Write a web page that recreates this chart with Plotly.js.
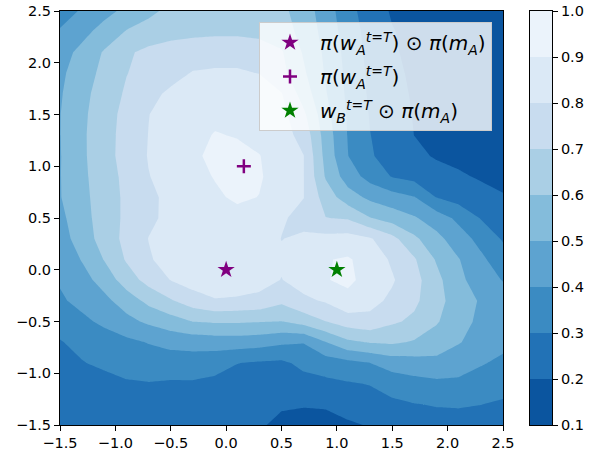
<!DOCTYPE html>
<html><head><meta charset="utf-8">
<script src="https://cdn.plot.ly/plotly-3.0.1.min.js"></script>
<style>html,body{margin:0;padding:0;background:#fff}#chart{width:589px;height:452px}</style>
</head><body><div id="chart"></div>
<script>
// grid coordinates of the surface
const xGrid = [-1.5,-1.3,-1.1,-0.9,-0.7,-0.5,-0.3,-0.1,0.1,0.3,0.5,0.7,0.9,1.1,1.3,1.5,1.7,1.9,2.1,2.3,2.5];
const yGrid = [-1.5,-1.3,-1.1,-0.9,-0.7,-0.5,-0.3,-0.1,0.1,0.3,0.5,0.7,0.9,1.1,1.3,1.5,1.7,1.9,2.1,2.3,2.5];
// surface values, one row per yGrid value (bottom to top)
const zGrid = [
 [0.21,0.22,0.232,0.24,0.245,0.24,0.232,0.222,0.213,0.205,0.19,0.185,0.185,0.19,0.205,0.225,0.25,0.27,0.28,0.275,0.265],
 [0.22,0.235,0.25,0.26,0.262,0.258,0.25,0.24,0.23,0.215,0.205,0.203,0.205,0.23,0.255,0.28,0.297,0.305,0.305,0.301,0.29],
 [0.24,0.255,0.27,0.29,0.296,0.29,0.29,0.28,0.268,0.255,0.245,0.267,0.277,0.292,0.305,0.343,0.365,0.379,0.377,0.35,0.329],
 [0.27,0.296,0.317,0.337,0.345,0.346,0.35,0.333,0.302,0.289,0.282,0.324,0.352,0.374,0.40,0.444,0.461,0.474,0.452,0.41,0.376],
 [0.295,0.323,0.35,0.378,0.405,0.433,0.441,0.45,0.45,0.441,0.417,0.405,0.498,0.58,0.607,0.615,0.59,0.55,0.505,0.47,0.43],
 [0.335,0.377,0.422,0.471,0.518,0.557,0.602,0.612,0.612,0.605,0.598,0.64,0.698,0.75,0.77,0.715,0.68,0.61,0.535,0.48,0.46],
 [0.385,0.43,0.475,0.545,0.627,0.69,0.752,0.79,0.78,0.77,0.72,0.78,0.81,0.87,0.83,0.78,0.72,0.635,0.55,0.49,0.46],
 [0.41,0.466,0.537,0.65,0.735,0.802,0.845,0.875,0.875,0.84,0.797,0.84,0.895,0.92,0.865,0.81,0.735,0.63,0.52,0.46,0.395],
 [0.435,0.506,0.605,0.71,0.79,0.838,0.862,0.882,0.885,0.86,0.815,0.85,0.895,0.91,0.86,0.785,0.71,0.59,0.505,0.42,0.345],
 [0.455,0.548,0.642,0.728,0.802,0.84,0.865,0.88,0.88,0.855,0.798,0.815,0.83,0.84,0.81,0.73,0.62,0.53,0.445,0.37,0.29],
 [0.475,0.563,0.647,0.72,0.78,0.825,0.85,0.865,0.87,0.855,0.812,0.77,0.702,0.69,0.605,0.555,0.51,0.45,0.377,0.295,0.25],
 [0.495,0.572,0.65,0.719,0.781,0.822,0.853,0.885,0.915,0.898,0.84,0.802,0.655,0.545,0.478,0.442,0.405,0.298,0.26,0.235,0.207],
 [0.496,0.579,0.654,0.725,0.797,0.834,0.87,0.905,0.93,0.91,0.855,0.802,0.59,0.452,0.364,0.295,0.268,0.24,0.213,0.19,0.175],
 [0.495,0.583,0.662,0.738,0.805,0.85,0.885,0.92,0.925,0.903,0.855,0.802,0.567,0.402,0.309,0.264,0.224,0.19,0.175,0.165,0.155],
 [0.497,0.584,0.662,0.735,0.802,0.845,0.875,0.905,0.895,0.87,0.84,0.767,0.555,0.395,0.302,0.249,0.199,0.18,0.17,0.16,0.15],
 [0.497,0.58,0.657,0.73,0.798,0.84,0.865,0.88,0.885,0.87,0.83,0.72,0.533,0.39,0.294,0.239,0.195,0.175,0.165,0.155,0.145],
 [0.49,0.571,0.645,0.713,0.777,0.815,0.84,0.86,0.86,0.845,0.805,0.655,0.507,0.38,0.285,0.23,0.19,0.17,0.16,0.15,0.14],
 [0.48,0.552,0.628,0.697,0.735,0.771,0.805,0.81,0.81,0.798,0.73,0.615,0.49,0.375,0.28,0.22,0.185,0.165,0.155,0.145,0.135],
 [0.46,0.528,0.61,0.685,0.725,0.745,0.76,0.77,0.77,0.755,0.71,0.59,0.48,0.365,0.27,0.21,0.18,0.16,0.15,0.14,0.13],
 [0.41,0.47,0.538,0.607,0.64,0.665,0.675,0.68,0.68,0.67,0.65,0.565,0.465,0.35,0.265,0.205,0.175,0.155,0.145,0.135,0.125],
 [0.355,0.411,0.469,0.524,0.577,0.625,0.655,0.675,0.675,0.66,0.625,0.55,0.45,0.335,0.25,0.19,0.17,0.15,0.14,0.13,0.12]
];
// contour levels and colorbar bands
const levels = [0.1,0.2,0.3,0.4,0.5,0.6,0.7,0.8,0.9,1.0];
const bandMids = [0.15,0.25,0.35,0.45,0.55,0.65,0.75,0.85,0.95];
const tickVals = [-1.5,-1.0,-0.5,0.0,0.5,1.0,1.5,2.0,2.5];
// marked points
const markerLabels = [
  '<i>π</i>(<i>w</i><sub><i>A</i></sub><sup><i>t</i>=<i>T</i></sup>) ⊙ <i>π</i>(<i>m</i><sub><i>A</i></sub>)',
  '<i>π</i>(<i>w</i><sub><i>A</i></sub><sup><i>t</i>=<i>T</i></sup>)',
  '<i>w</i><sub><i>B</i></sub><sup><i>t</i>=<i>T</i></sup> ⊙ <i>π</i>(<i>m</i><sub><i>A</i></sub>)'
];
const markerX = [0, 0.16, 1];
const markerY = [0, 1.0, 0];

// styles
const bandColors = ['#0b559f','#2272b6','#3b8bc2','#5da3d0','#84bcdb','#aacfe5','#c8dcef','#dbe9f6','#ebf3fb'];
const markerColors = ['purple','purple','green'];
const markerSymbols = ['star','cross-thin','star'];

// stepped colorscale for contour fill (band k is sampled at s = (k+1)/10)
const contourScale = [];
for (let k = 0; k < bandColors.length; k++) {
  const lo = k === 0 ? 0 : (k * 10 + 5) / 100;
  const hi = k === bandColors.length - 1 ? 1 : (k * 10 + 15) / 100;
  contourScale.push([lo, bandColors[k]]);
  contourScale.push([hi, bandColors[k]]);
}
// stepped colorscale for the colorbar heatmap (zmin 0.1, zmax 1.0)
const cbScale = [];
for (let k = 0; k < bandColors.length; k++) {
  cbScale.push([k / 9, bandColors[k]]);
  cbScale.push([(k + 1) / 9, bandColors[k]]);
}

const font = 'DejaVu Sans';
const traces = [
  {
    type: 'contour', x: xGrid, y: yGrid, z: zGrid,
    autocontour: false,
    contours: {start: levels[0], end: levels[levels.length - 1], size: 0.1, coloring: 'fill', showlines: false},
    line: {width: 0, smoothing: 0},
    colorscale: contourScale, zmin: 0.1, zmax: 1.0,
    showscale: false, showlegend: false, hoverinfo: 'skip'
  },
  {
    type: 'heatmap', x: [0], y: bandMids, z: bandMids.map(v => [v]),
    xaxis: 'x2', yaxis: 'y2', colorscale: cbScale, zmin: 0.1, zmax: 1.0,
    showscale: false, showlegend: false, hoverinfo: 'skip'
  }
];
for (let i = 0; i < markerLabels.length; i++) {
  const isPlus = markerSymbols[i] === 'cross-thin';
  traces.push({
    type: 'scatter', mode: 'markers', x: [markerX[i]], y: [markerY[i]], name: markerLabels[i],
    legendgroup: 'g' + i,
    marker: isPlus
      ? {symbol: 'cross-thin', size: 10, color: markerColors[i], line: {color: markerColors[i], width: 2.5}}
      : {symbol: 'star', size: 13, color: markerColors[i], line: {width: 0}},
    hoverinfo: 'skip'
  });
}

const axisCommon = {
  showgrid: false, zeroline: false, showline: true, mirror: true,
  linecolor: '#000', linewidth: 1, ticks: 'outside', ticklen: 5, tickwidth: 1, tickcolor: '#000',
  tickfont: {family: font, size: 14.5, color: '#000'}
};
const layout = {
  width: 589, height: 452,
  margin: {l: 60, r: 37, t: 11, b: 27, pad: 0},
  paper_bgcolor: '#fff', plot_bgcolor: '#fff',
  font: {family: font, color: '#000'},
  xaxis: Object.assign({}, axisCommon, {domain: [0, 443 / 492], range: [-1.5, 2.5], tickvals: tickVals, tickformat: '.1f', anchor: 'y'}),
  yaxis: Object.assign({}, axisCommon, {domain: [0, 1], range: [-1.5, 2.5], tickvals: tickVals, tickformat: '.1f', anchor: 'x'}),
  xaxis2: Object.assign({}, axisCommon, {domain: [470 / 492, 1], range: [-0.5, 0.5], ticks: '', showticklabels: false, anchor: 'y2'}),
  yaxis2: Object.assign({}, axisCommon, {domain: [0, 1], range: [0.1, 1.0], tickvals: levels, tickformat: '.1f', side: 'right', anchor: 'x2'}),
  showlegend: true,
  legend: {
    x: 432 / 492, xanchor: 'right', y: 403 / 414, yanchor: 'top',
    bgcolor: 'rgba(255,255,255,0.8)', bordercolor: '#cccccc', borderwidth: 1,
    font: {family: font, size: 20, color: '#000'}, itemwidth: 50, tracegroupgap: 5
  }
};
Plotly.newPlot('chart', traces, layout, {displayModeBar: false, staticPlot: true});
</script>
</body></html>
